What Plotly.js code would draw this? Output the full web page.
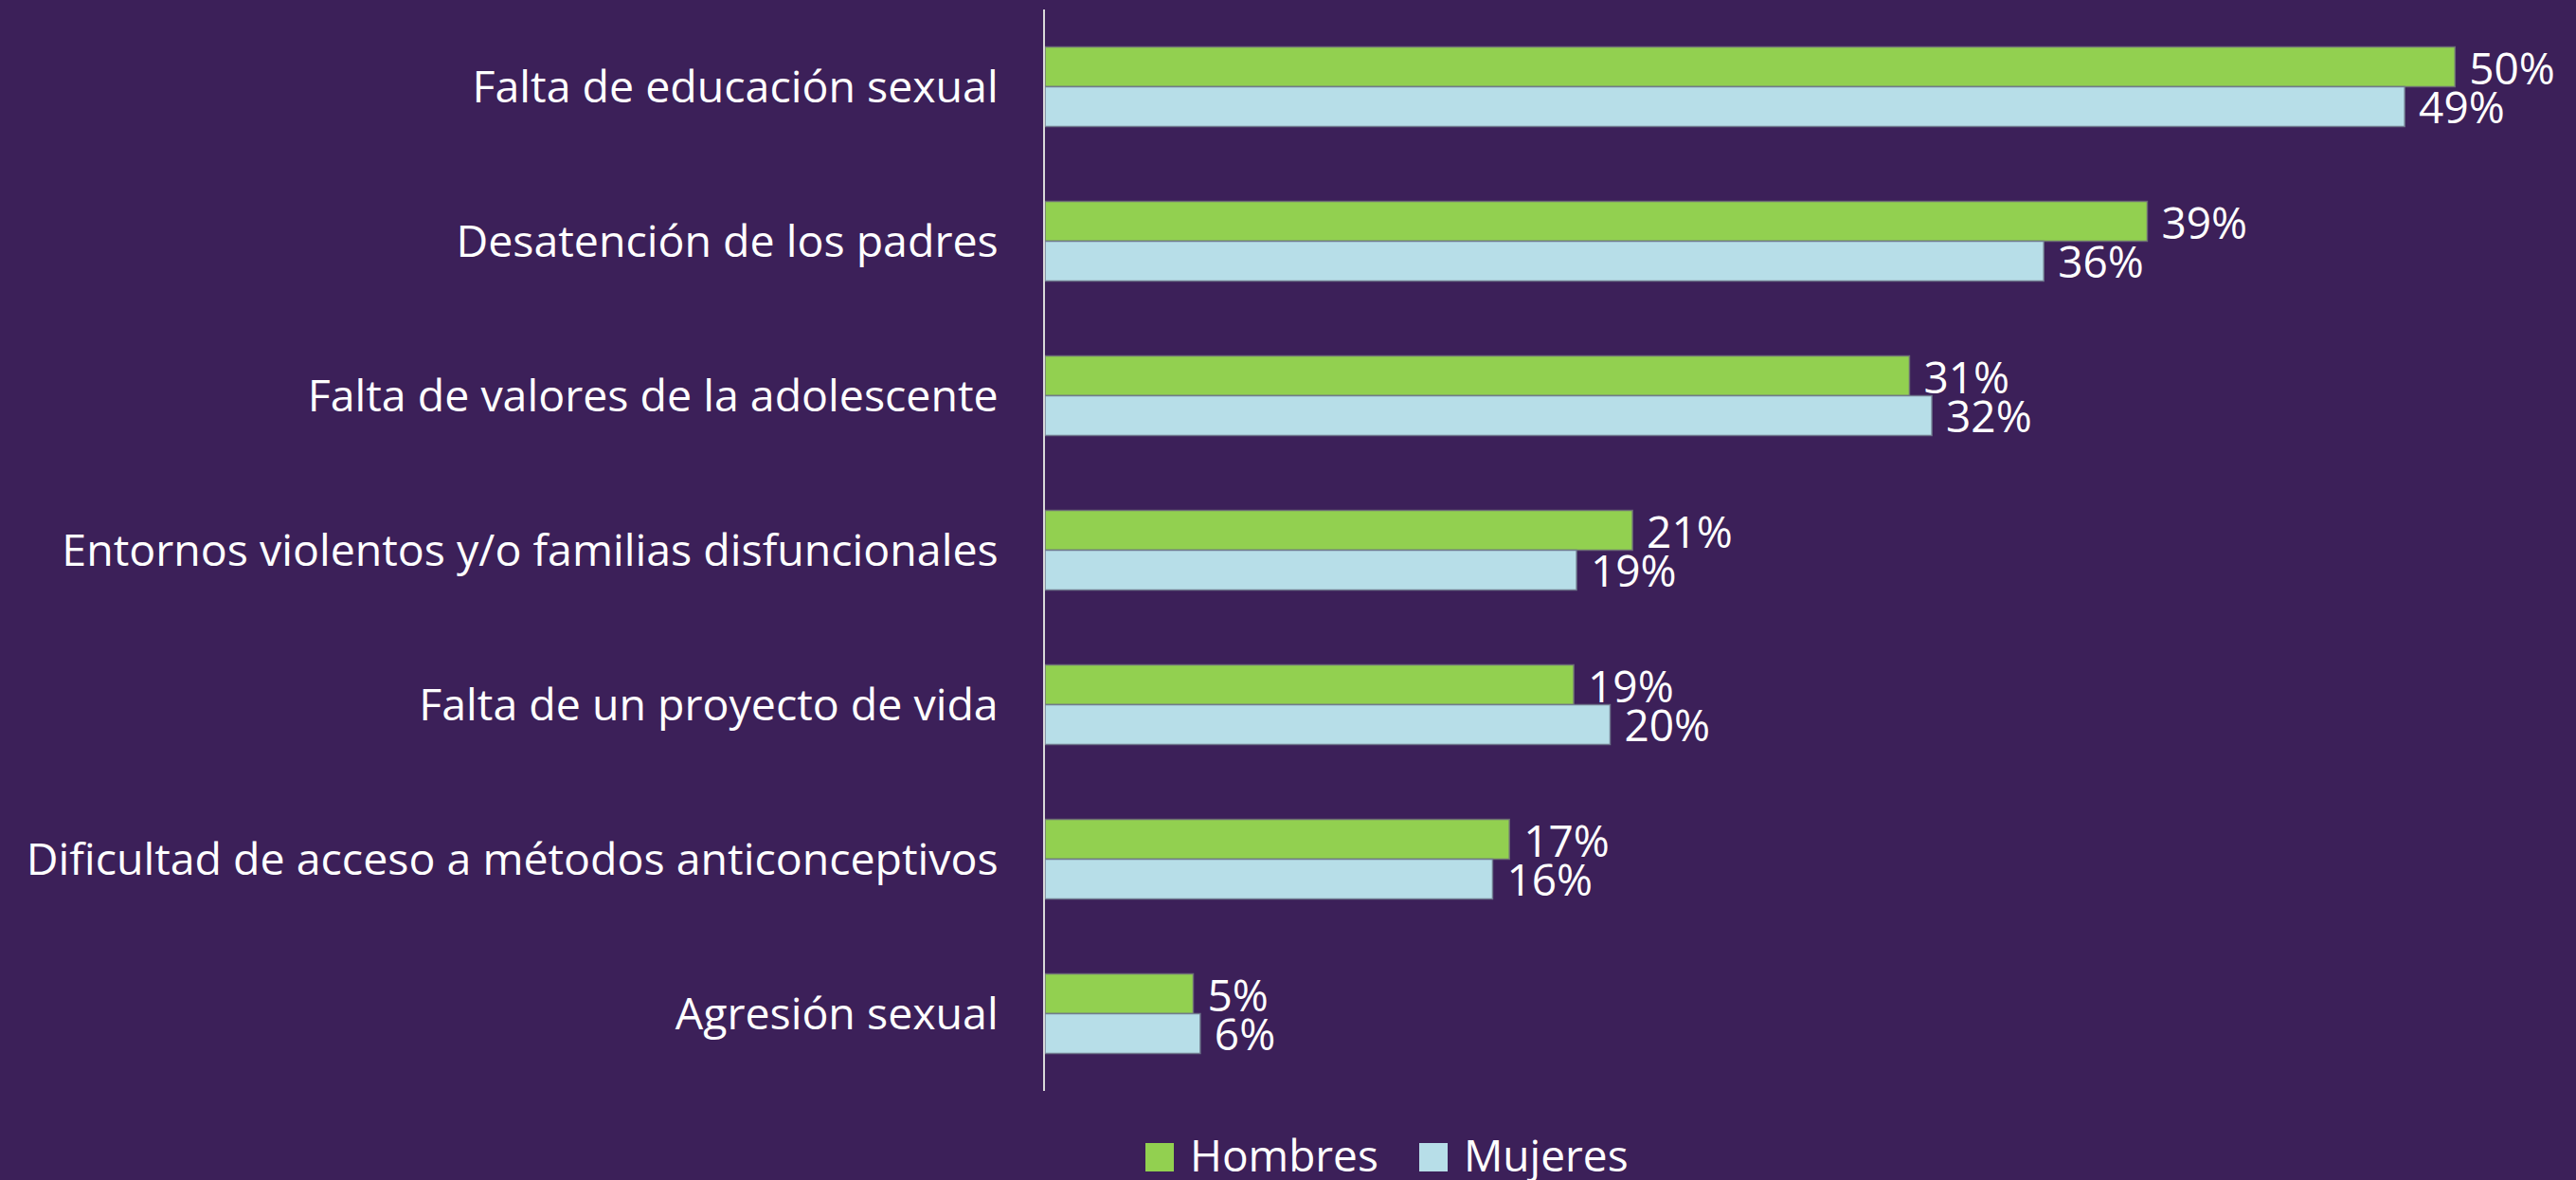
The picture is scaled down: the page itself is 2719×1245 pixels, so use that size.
<!DOCTYPE html>
<html>
<head>
<meta charset="utf-8">
<script src="https://cdn.plot.ly/plotly-3.0.1.min.js"></script>
<style>html,body{margin:0;padding:0;background:#3c2059;}</style>
</head>
<body>
<div id="chart" style="width:2719px;height:1245px;"></div>
<script>
const categories = [
  'Falta de educación sexual',
  'Desatención de los padres',
  'Falta de valores de la adolescente',
  'Entornos violentos y/o familias disfuncionales',
  'Falta de un proyecto de vida',
  'Dificultad de acceso a métodos anticonceptivos',
  'Agresión sexual'
];
const seriesNames = ['Hombres', 'Mujeres'];
const hombres = [50.4, 39.4, 30.9, 21.0, 18.9, 16.6, 5.3];
const mujeres = [48.6, 35.7, 31.7, 19.0, 20.2, 16.0, 5.55];
const seriesColors = ['#92d050', '#b7dee8'];

const FONT = '"Open Sans", "Noto Sans", sans-serif';
const BG = '#3c2059';
const W = 2719, H = 1245;
const M = {l: 1103, r: 10, t: 10, b: 94};
const PW = W - M.l - M.r, PH = H - M.t - M.b;
// pixel -> paper helpers for the custom legend
const px = v => (v - M.l) / PW;
const py = v => (H - M.b - v) / PH;

const common = {
  type: 'bar',
  orientation: 'h',
  y: categories,
  texttemplate: '\u00a0%{x:.0f}%',
  textposition: 'outside',
  constraintext: 'none',
  cliponaxis: false,
  textfont: {family: FONT, size: 46, color: '#ffffff'},
  hoverinfo: 'skip',
  showlegend: false
};

const traces = [
  Object.assign({}, common, {
    name: seriesNames[0],
    x: hombres,
    marker: {color: seriesColors[0], line: {color: 'rgba(110,110,120,0.9)', width: 1.5}}
  }),
  Object.assign({}, common, {
    name: seriesNames[1],
    x: mujeres,
    marker: {color: seriesColors[1], line: {color: 'rgba(110,120,140,0.9)', width: 1.5}}
  })
];

// custom legend (large square keys as in the reference)
const legendSquares = [1209, 1498];
const legendTexts = [1254, 1543];
const shapes = [], annotations = [];
seriesNames.forEach(function (n, i) {
  shapes.push({
    type: 'rect', xref: 'paper', yref: 'paper',
    x0: px(legendSquares[i]), x1: px(legendSquares[i] + 30),
    y0: py(1236), y1: py(1206),
    fillcolor: seriesColors[i], line: {width: 0}
  });
  annotations.push({
    xref: 'paper', yref: 'paper',
    x: px(legendTexts[i]), y: py(1218),
    xanchor: 'left', yanchor: 'middle',
    text: n, showarrow: false,
    font: {family: FONT, size: 46, color: '#ffffff'}
  });
});

const layout = {
  width: W,
  height: H,
  paper_bgcolor: BG,
  plot_bgcolor: BG,
  margin: {l: M.l, r: M.r, t: M.t, b: M.b, pad: 0},
  barmode: 'group',
  bargap: 0.485,
  bargroupgap: 0,
  font: {family: FONT, color: '#ffffff', size: 46},
  showlegend: false,
  xaxis: {
    range: [0, PW / 29.53],
    showgrid: false,
    zeroline: false,
    showticklabels: false,
    ticks: '',
    fixedrange: true
  },
  yaxis: {
    type: 'category',
    autorange: 'reversed',
    automargin: false,
    showgrid: false,
    zeroline: false,
    showline: true,
    linecolor: '#d9d9d9',
    linewidth: 2,
    ticks: '',
    ticklabelstandoff: 38,
    tickfont: {family: FONT, size: 46.5, color: '#ffffff'},
    fixedrange: true
  },
  shapes: shapes,
  annotations: annotations
};

Plotly.newPlot('chart', traces, layout, {displayModeBar: false, staticPlot: true});
</script>
</body>
</html>
